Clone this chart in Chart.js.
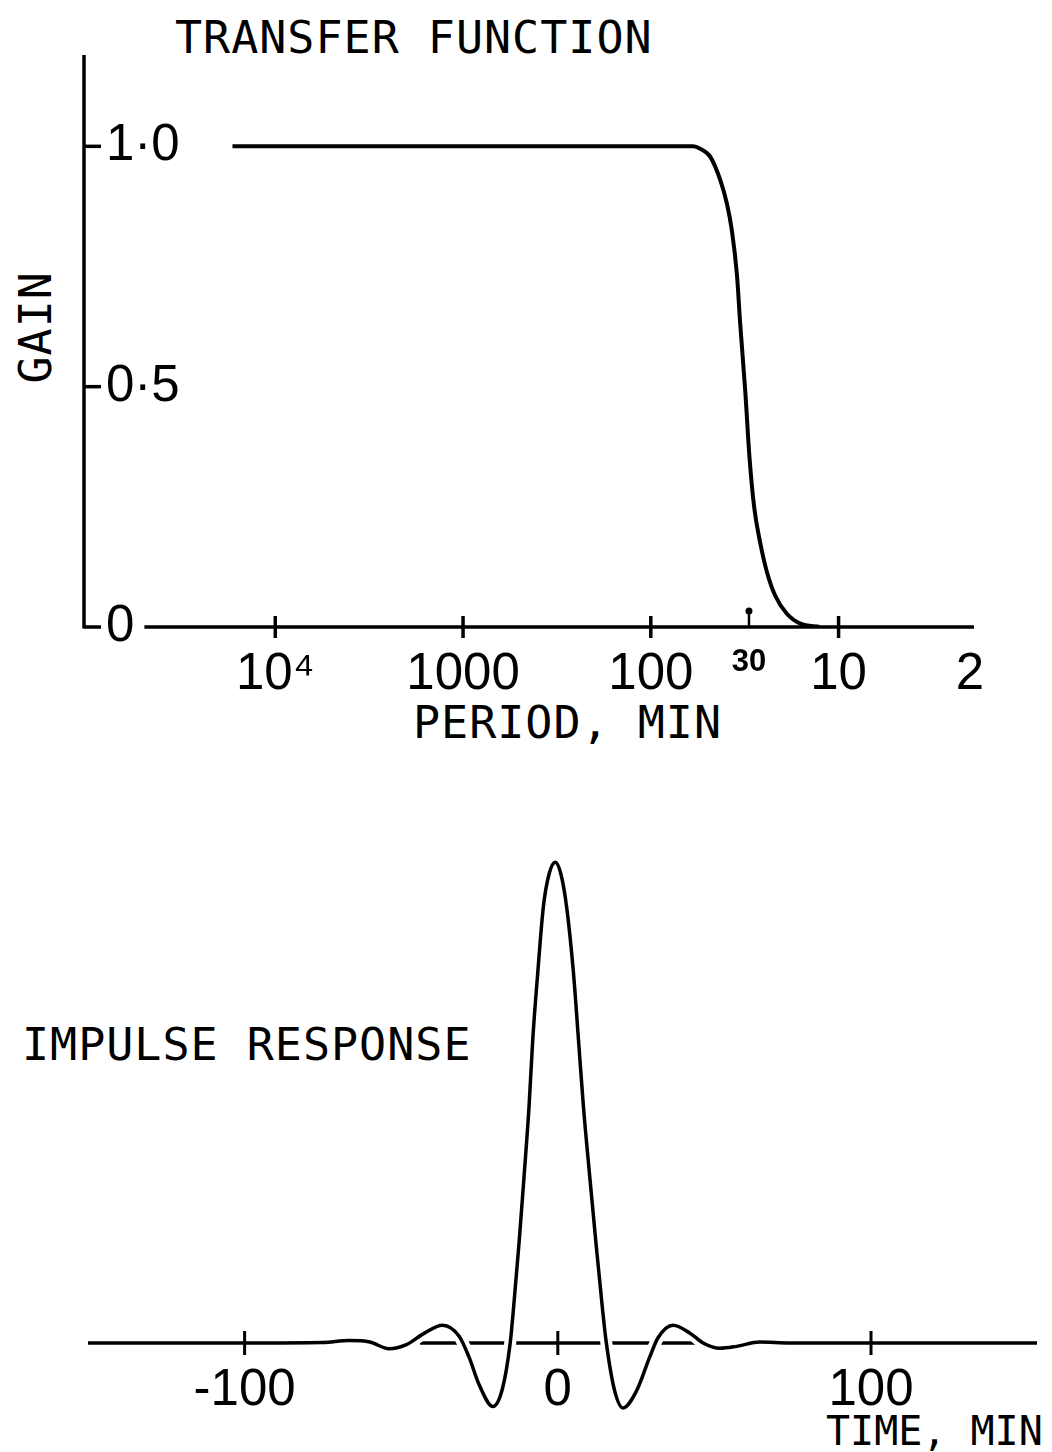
<!DOCTYPE html>
<html>
<head>
  <title>Transfer function and impulse response</title>
  <script src="https://cdn.jsdelivr.net/npm/chart.js"></script>
  <style>
    body {
      margin: 0;
      width: 1052px;
      height: 1452px;
      position: relative;
      overflow: hidden;
      background: #fff;
    }
    .panel {
      position: absolute;
      left: 0;
    }
    .caption {
      position: absolute;
      font-family: 'DejaVu Sans Mono', monospace;
      font-size: 45px;
      line-height: 45px;
      letter-spacing: 1px;
      color: #000;
      white-space: nowrap;
    }
    .caption.small {
      font-size: 40px;
      line-height: 40px;
      letter-spacing: 0;
    }
    .rotated {
      width: 112px;
      text-align: center;
      transform: rotate(-90deg);
    }
  </style>
</head>
<body>
  <div class="caption" style="left:175px; top:15px;">TRANSFER FUNCTION</div>
  <div class="caption rotated" style="left:-21px; top:305px;">GAIN</div>
  <div class="caption" style="left:413px; top:700px;">PERIOD, MIN</div>
  <div class="caption" style="left:22px; top:1022px;">IMPULSE RESPONSE</div>
  <div class="caption small" style="left:826px; top:1411px;">TIME, MIN</div>

  <div class="panel" style="top:0;">
    <canvas id="gainChart" width="1052" height="760"></canvas>
  </div>
  <div class="panel" style="top:760px;">
    <canvas id="impulseChart" width="1052" height="692"></canvas>
  </div>

  <script>
    // gain of the filter against period (minutes)
    const periodMin = [16900, 5000, 1000, 200, 89, 69.7, 59.4, 54.6, 48.2, 42.6, 39.3, 37.0, 34.8,
                       33.4, 31.4, 29.8, 28.1, 26.2, 24.1, 21.8, 18.9, 16.0, 12.6];
    const gain = [1, 1, 1, 1, 1, 1, 1, 0.995, 0.978, 0.929, 0.88, 0.825, 0.734,
                  0.63, 0.49, 0.352, 0.247, 0.177, 0.115, 0.066, 0.028, 0.007, 0];

    const periodTicks = [10000, 1000, 100, 30, 10, 2];
    const periodLabels = ['10\u2074', '1000', '100', '30', '10', '2'];
    const markedPeriod = 30;
    const gainTicks = [0, 0.5, 1];
    const gainLabels = ['0', '0\u00b75', '1\u00b70'];

    // impulse response against time (minutes)
    const impulseTime = [-150, -100, -75, -66.7, -60, -53.9, -48.5, -42.7, -36.8, -31.5,
                         -28.3, -25.1, -20.7, -17.6, -15.2, -14.1, -12.3, -10.7, -9.2, -8.0,
                         -6.4, -4.6, -2.8, -0.8, 1.0, 2.8, 5.0, 6.6, 8.2, 10.1,
                         12.1, 14.2, 15.5, 18.1, 20.8, 25.1, 29.3, 32, 36.8, 42.1,
                         46.4, 51.7, 57.1, 64.5, 74.1, 100, 153];
    const impulseValue = [0, 0, 0.001, 0.005, 0.002, -0.012, -0.004, 0.02, 0.037, 0.014,
                          -0.03, -0.087, -0.132, -0.093, 0, 0.075, 0.214, 0.353, 0.49, 0.631,
                          0.77, 0.908, 0.975, 1.0, 0.975, 0.908, 0.77, 0.631, 0.49, 0.353,
                          0.214, 0.075, 0, -0.098, -0.135, -0.1, -0.03, 0.011, 0.037, 0.021,
                          0, -0.011, -0.007, 0.002, 0, 0, 0];

    const timeTicks = [-100, 0, 100];
    const timeLabels = ['-100', '0', '100'];

    const numberFont = "'Liberation Sans', Arial, sans-serif";
    const ink = '#000';

    function crossTick(ctx, x, y, half) {
      ctx.beginPath();
      ctx.moveTo(x, y - half);
      ctx.lineTo(x, y + half);
      ctx.stroke();
    }

    // hand-drawn style axes for the gain plot
    const gainAxes = {
      id: 'gainAxes',
      beforeDatasetsDraw(chart) {
        const { ctx, scales: { x, y } } = chart;
        const y0 = y.getPixelForValue(0);
        const left = y.right;
        ctx.save();
        ctx.strokeStyle = ink;
        ctx.fillStyle = ink;
        ctx.lineWidth = 3.5;
        ctx.lineCap = 'butt';

        // vertical axis with short ticks pointing inwards
        ctx.beginPath();
        ctx.moveTo(left, y.top);
        ctx.lineTo(left, y0 + 1.5);
        ctx.stroke();
        gainTicks.forEach(v => {
          const py = y.getPixelForValue(v);
          ctx.beginPath();
          ctx.moveTo(left, py);
          ctx.lineTo(left + 17, py);
          ctx.stroke();
        });

        // zero line starts just after the "0" label
        ctx.font = '51px ' + numberFont;
        const start = left + y.options.ticks.padding + ctx.measureText(gainLabels[0]).width + 10;
        ctx.beginPath();
        ctx.moveTo(start, y0);
        ctx.lineTo(x.right, y0);
        ctx.stroke();

        periodTicks.filter(p => p >= 10 && p !== markedPeriod).forEach(p => {
          crossTick(ctx, x.getPixelForValue(p), y0, 11);
        });

        // small pin over the marked period
        const px = x.getPixelForValue(markedPeriod);
        ctx.lineWidth = 2.5;
        ctx.beginPath();
        ctx.moveTo(px, y0);
        ctx.lineTo(px, y0 - 15);
        ctx.stroke();
        ctx.beginPath();
        ctx.arc(px, y0 - 16, 3.5, 0, Math.PI * 2);
        ctx.fill();
        ctx.restore();
      }
    };

    new Chart(document.getElementById('gainChart'), {
      type: 'line',
      data: {
        datasets: [{
          data: periodMin.map((p, i) => ({ x: p, y: gain[i] })),
          borderColor: ink,
          borderWidth: 4,
          pointRadius: 0,
          fill: false,
          cubicInterpolationMode: 'monotone'
        }]
      },
      options: {
        responsive: false,
        animation: false,
        events: [],
        layout: { padding: { left: 0, right: 78, top: 55, bottom: 0 } },
        plugins: { legend: { display: false }, tooltip: { enabled: false } },
        scales: {
          x: {
            type: 'logarithmic',
            reverse: true,
            min: 1.9,
            max: 104400,
            grid: { display: false, drawTicks: false },
            border: { display: false },
            afterBuildTicks: s => { s.ticks = periodTicks.map(v => ({ value: v })); },
            afterFit: s => { s.height = 133; },
            ticks: {
              autoSkip: false,
              maxRotation: 0,
              padding: 17,
              color: ink,
              font: c => (c.tick && c.tick.value === markedPeriod)
                ? { family: numberFont, size: 31, weight: 'bold' }
                : { family: numberFont, size: 51 },
              callback: v => periodLabels[periodTicks.indexOf(v)]
            }
          },
          y: {
            min: 0,
            max: 1.19,
            grid: { display: false, drawTicks: false },
            border: { display: false },
            afterBuildTicks: s => { s.ticks = gainTicks.map(v => ({ value: v })); },
            afterFit: s => { s.width = 84; },
            ticks: {
              mirror: true,
              padding: 22,
              color: ink,
              font: { family: numberFont, size: 51 },
              callback: v => gainLabels[gainTicks.indexOf(v)]
            }
          }
        }
      },
      plugins: [gainAxes]
    });

    // zero line is broken where the trace crosses it (white halo under the trace)
    const impulseAxes = {
      id: 'impulseAxes',
      beforeDatasetsDraw(chart) {
        const { ctx, scales: { x, y } } = chart;
        const y0 = y.getPixelForValue(0);
        ctx.save();
        ctx.strokeStyle = ink;
        ctx.lineWidth = 3.5;
        ctx.beginPath();
        ctx.moveTo(x.getPixelForValue(-44), y0);
        ctx.lineTo(x.getPixelForValue(44), y0);
        ctx.stroke();
        ctx.restore();
      },
      afterDatasetsDraw(chart) {
        const { ctx, scales: { x, y } } = chart;
        const y0 = y.getPixelForValue(0);
        ctx.save();
        ctx.strokeStyle = ink;
        ctx.lineWidth = 3;
        timeTicks.forEach(t => crossTick(ctx, x.getPixelForValue(t), y0, 12));
        ctx.restore();
      }
    };

    const impulsePoints = impulseTime.map((t, i) => ({ x: t, y: impulseValue[i] }));

    new Chart(document.getElementById('impulseChart'), {
      type: 'line',
      data: {
        datasets: [{
          data: impulsePoints,
          borderColor: ink,
          borderWidth: 3.5,
          pointRadius: 0,
          fill: false,
          clip: false,
          cubicInterpolationMode: 'monotone'
        }, {
          data: impulsePoints,
          borderColor: '#fff',
          borderWidth: 12,
          pointRadius: 0,
          fill: false,
          clip: false,
          cubicInterpolationMode: 'monotone'
        }]
      },
      options: {
        responsive: false,
        animation: false,
        events: [],
        layout: { padding: { left: 88, right: 15, top: 83, bottom: 0 } },
        plugins: { legend: { display: false }, tooltip: { enabled: false } },
        scales: {
          x: {
            type: 'linear',
            min: -150,
            max: 153,
            grid: { display: false, drawTicks: false },
            border: { display: false },
            afterBuildTicks: s => { s.ticks = timeTicks.map(v => ({ value: v })); },
            afterFit: s => { s.height = 109; },
            ticks: {
              autoSkip: false,
              maxRotation: 0,
              padding: 17,
              color: ink,
              font: { family: numberFont, size: 51 },
              callback: v => timeLabels[timeTicks.indexOf(v)]
            }
          },
          y: {
            display: false,
            min: 0,
            max: 1.04
          }
        }
      },
      plugins: [impulseAxes]
    });
  </script>
</body>
</html>
